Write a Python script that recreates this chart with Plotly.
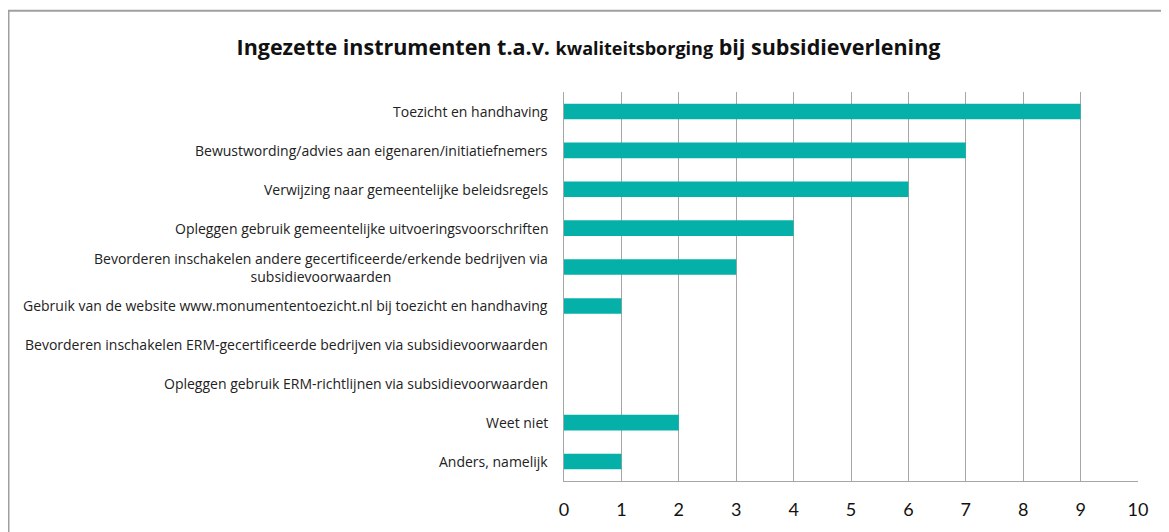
import plotly.graph_objects as go

categories = [
    "Toezicht en handhaving",
    "Bewustwording/advies aan eigenaren/initiatiefnemers",
    "Verwijzing naar gemeentelijke beleidsregels",
    "Opleggen gebruik gemeentelijke uitvoeringsvoorschriften",
    "Bevorderen inschakelen andere gecertificeerde/erkende bedrijven via<br>subsidievoorwaarden",
    "Gebruik van de website www.monumententoezicht.nl bij toezicht en handhaving",
    "Bevorderen inschakelen ERM-gecertificeerde bedrijven via subsidievoorwaarden",
    "Opleggen gebruik ERM-richtlijnen via subsidievoorwaarden",
    "Weet niet",
    "Anders, namelijk",
]
values = [9, 7, 6, 4, 3, 1, 0, 0, 2, 1]
x_ticks = list(range(0, 11))

LABEL_FONT = "Open Sans"

# page body has an 8px margin, so the figure is sized to fit the window
W, H = 1161, 524
L, R, T, B = 556, 31, 84, 48
pw, ph = W - L - R, H - T - B

fig = go.Figure()
fig.add_trace(go.Bar(
    y=categories,
    x=values,
    orientation="h",
    marker=dict(color="#05b0a8", line=dict(width=0)),
    hoverinfo="x+y",
))

annotations = []
for c in categories:
    annotations.append(dict(
        x=0, xref="paper", y=c, yref="y",
        text=c, showarrow=False, xanchor="right", yanchor="middle",
        align="center", xshift=-14,
        font=dict(family=LABEL_FONT, size=14, color="#222222"),
    ))

fig.update_layout(
    width=W, height=H,
    margin=dict(l=L, r=R, t=T, b=B),
    paper_bgcolor="white",
    plot_bgcolor="white",
    showlegend=False,
    bargap=0.6,
    title=dict(
        text="Ingezette instrumenten t.a.v. <span style='font-size:18px'>kwaliteitsborging</span> bij subsidieverlening",
        x=0.5, xanchor="center", y=1 - 39 / H, yanchor="middle",
        font=dict(family="Open Sans", size=21.5, color="#111111", weight="bold"),
    ),
    annotations=annotations,
    shapes=[dict(
        type="rect", xref="paper", yref="paper",
        x0=(0.5 - L) / pw, x1=(W + 20 - L) / pw,
        y0=-(B + 30) / ph, y1=(H - B - 2) / ph,
        line=dict(color="#a0a0a0", width=2), layer="below",
    )],
)

fig.update_xaxes(
    range=[0, 10],
    tickvals=x_ticks,
    ticktext=[str(t) for t in x_ticks],
    showgrid=True, gridcolor="#a6a6a6", gridwidth=1,
    showline=True, linecolor="#a6a6a6", linewidth=1,
    zeroline=False,
    ticks="", ticklabelstandoff=12,
    tickfont=dict(family="Lato", size=18, color="#111111"),
    fixedrange=True,
)
fig.update_yaxes(
    autorange="reversed",
    showticklabels=False,
    showgrid=False,
    showline=True, linecolor="#a6a6a6", linewidth=1,
    ticks="",
    fixedrange=True,
)

fig.write_html("out.html")
